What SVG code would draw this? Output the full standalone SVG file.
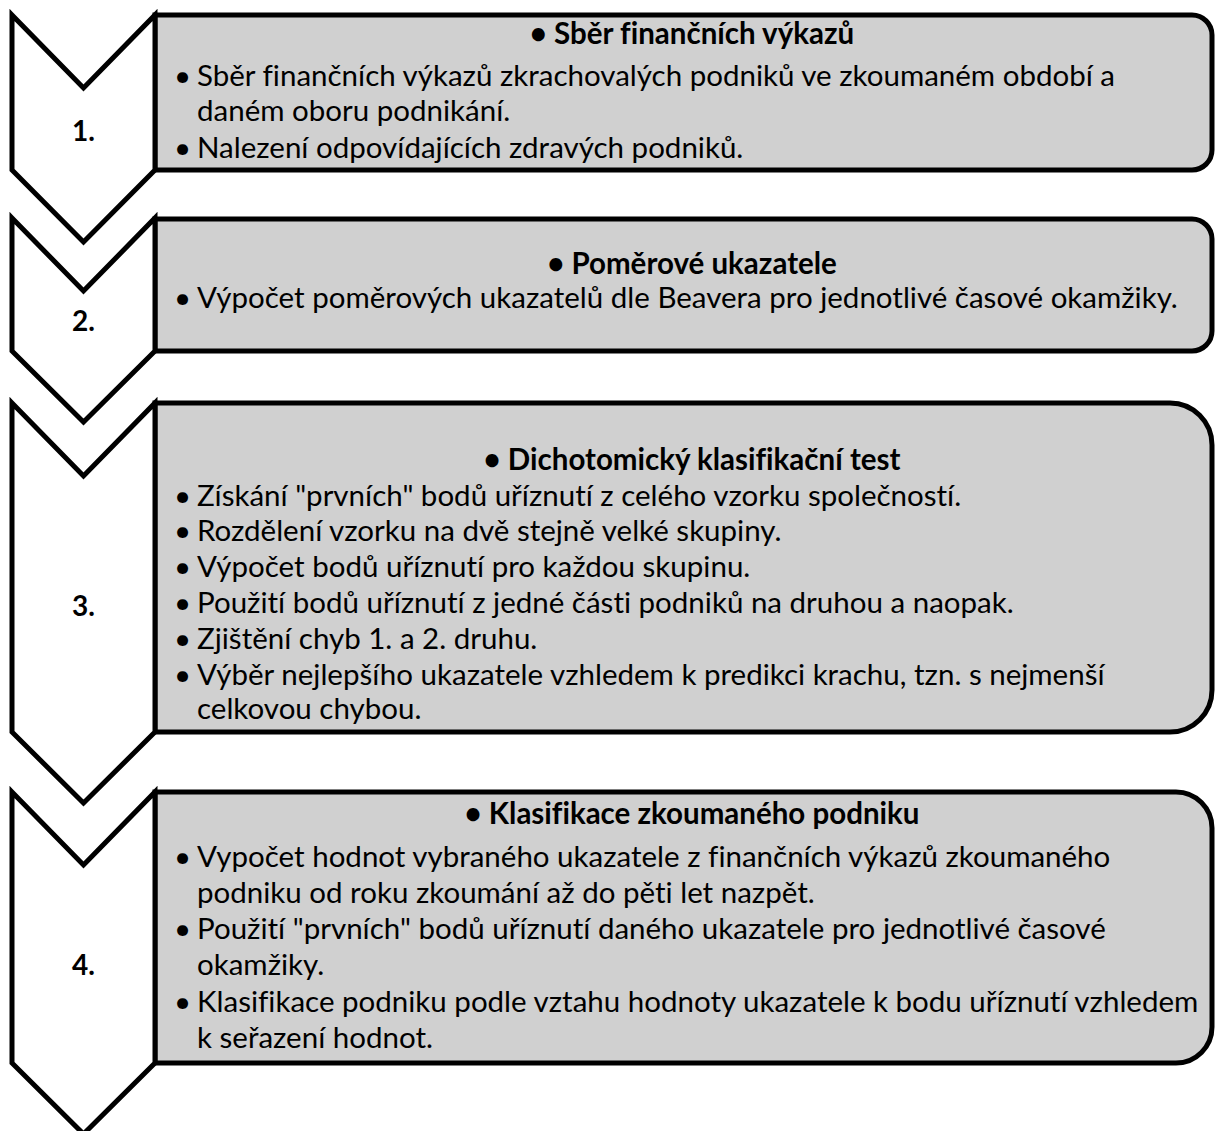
<svg xmlns="http://www.w3.org/2000/svg" width="1215" height="1131" viewBox="0 0 1215 1131">
<style>
.chev{fill:#ffffff;stroke:#000;stroke-width:5;stroke-linejoin:miter}
.box{fill:#d0d0d0;stroke:#000;stroke-width:5;stroke-linejoin:miter}
text{font-family:"Lato","Open Sans","DejaVu Sans",sans-serif;fill:#000;font-variant-ligatures:none}
.num{font-size:28px;font-weight:bold;text-anchor:middle}
.ttl{font-size:29.5px;font-weight:bold;text-anchor:middle}
.body{font-size:29.5px}
</style>
<rect width="1215" height="1131" fill="#ffffff"/>
<g id="step1">
<path class="box" d="M155,15 H1192 A20,20 0 0 1 1212,35 V150 A20,20 0 0 1 1192,170 H155 Z"/>
<path class="chev" d="M12,15 L83.5,88 L155,15 L155,170 L83.5,242 L12,170 Z"/>
<text class="num" x="83.5" y="141">1.</text>
<text class="ttl" x="692" y="44">• Sběr finančních výkazů</text>
<text class="body" x="174" y="86">•</text>
<text class="body" x="197" y="86">Sběr finančních výkazů zkrachovalých podniků ve zkoumaném období a</text>
<text class="body" x="197" y="121">daném oboru podnikání.</text>
<text class="body" x="174" y="158">•</text>
<text class="body" x="197" y="158">Nalezení odpovídajících zdravých podniků.</text>
</g>
<g id="step2">
<path class="box" d="M155,219 H1192 A20,20 0 0 1 1212,239 V331 A20,20 0 0 1 1192,351 H155 Z"/>
<path class="chev" d="M12,218 L83.5,291 L155,218 L155,351 L83.5,422 L12,351 Z"/>
<text class="num" x="83.5" y="331">2.</text>
<text class="ttl" x="692" y="274">• Poměrové ukazatele</text>
<text class="body" x="174" y="308">•</text>
<text class="body" x="197" y="308">Výpočet poměrových ukazatelů dle Beavera pro jednotlivé časové okamžiky.</text>
</g>
<g id="step3">
<path class="box" d="M155,403 H1170 A42,42 0 0 1 1212,445 V690 A42,42 0 0 1 1170,732 H155 Z"/>
<path class="chev" d="M12,403 L83.5,476 L155,403 L155,732 L83.5,803 L12,732 Z"/>
<text class="num" x="83.5" y="616">3.</text>
<text class="ttl" x="692" y="470">• Dichotomický klasifikační test</text>
<text class="body" x="174" y="506">•</text>
<text class="body" x="197" y="506">Získání "prvních" bodů uříznutí z celého vzorku společností.</text>
<text class="body" x="174" y="541">•</text>
<text class="body" x="197" y="541">Rozdělení vzorku na dvě stejně velké skupiny.</text>
<text class="body" x="174" y="577">•</text>
<text class="body" x="197" y="577">Výpočet bodů uříznutí pro každou skupinu.</text>
<text class="body" x="174" y="613">•</text>
<text class="body" x="197" y="613">Použití bodů uříznutí z jedné části podniků na druhou a naopak.</text>
<text class="body" x="174" y="649">•</text>
<text class="body" x="197" y="649">Zjištění chyb 1. a 2. druhu.</text>
<text class="body" x="174" y="685">•</text>
<text class="body" x="197" y="685">Výběr nejlepšího ukazatele vzhledem k predikci krachu, tzn. s nejmenší</text>
<text class="body" x="197" y="719">celkovou chybou.</text>
</g>
<g id="step4">
<path class="box" d="M155,792 H1176 A36,36 0 0 1 1212,828 V1027 A36,36 0 0 1 1176,1063 H155 Z"/>
<path class="chev" d="M12,792 L83.5,865 L155,792 L155,1063 L83.5,1134 L12,1063 Z"/>
<text class="num" x="83.5" y="975">4.</text>
<text class="ttl" x="692" y="824">• Klasifikace zkoumaného podniku</text>
<text class="body" x="174" y="867">•</text>
<text class="body" x="197" y="867">Vypočet hodnot vybraného ukazatele z finančních výkazů zkoumaného</text>
<text class="body" x="197" y="903">podniku od roku zkoumání až do pěti let nazpět.</text>
<text class="body" x="174" y="939">•</text>
<text class="body" x="197" y="939">Použití "prvních" bodů uříznutí daného ukazatele pro jednotlivé časové</text>
<text class="body" x="197" y="975">okamžiky.</text>
<text class="body" x="174" y="1012">•</text>
<text class="body" x="197" y="1012">Klasifikace podniku podle vztahu hodnoty ukazatele k bodu uříznutí vzhledem</text>
<text class="body" x="197" y="1048">k seřazení hodnot.</text>
</g>
<g id="connectors"></g>
</svg>
